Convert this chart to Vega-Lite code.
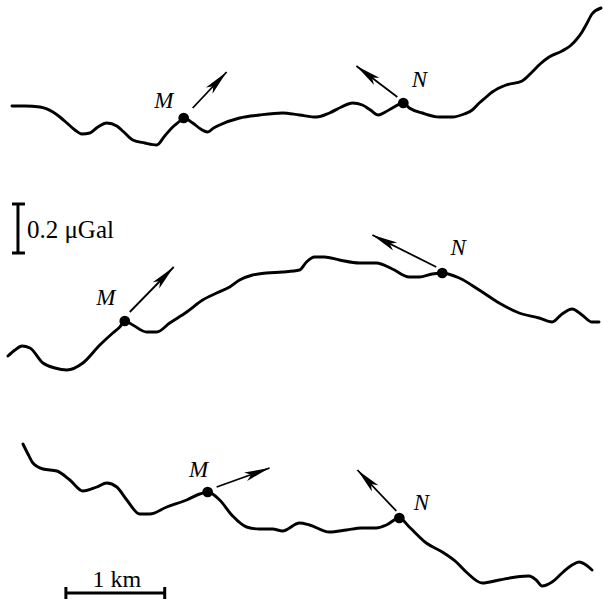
{
  "$schema": "https://vega.github.io/schema/vega-lite/v6.json",
  "width": 603,
  "height": 605,
  "padding": 0,
  "autosize": {"type": "fit", "contains": "padding"},
  "background": "white",
  "config": {"view": {"stroke": null}},
  "datasets": {
    "profiles": [
      {"profile": 1, "x": 12, "y": 106}, {"profile": 1, "x": 25, "y": 106}, {"profile": 1, "x": 40, "y": 107}, {"profile": 1, "x": 53, "y": 112}, {"profile": 1, "x": 60, "y": 117}, {"profile": 1, "x": 67, "y": 123}, {"profile": 1, "x": 75, "y": 130}, {"profile": 1, "x": 82, "y": 134}, {"profile": 1, "x": 90, "y": 133}, {"profile": 1, "x": 98, "y": 127}, {"profile": 1, "x": 107, "y": 123}, {"profile": 1, "x": 117, "y": 126}, {"profile": 1, "x": 124, "y": 132}, {"profile": 1, "x": 133, "y": 140}, {"profile": 1, "x": 145, "y": 143}, {"profile": 1, "x": 157, "y": 145}, {"profile": 1, "x": 165, "y": 136}, {"profile": 1, "x": 173, "y": 127}, {"profile": 1, "x": 179, "y": 122}, {"profile": 1, "x": 184, "y": 118}, {"profile": 1, "x": 193, "y": 123}, {"profile": 1, "x": 201, "y": 129}, {"profile": 1, "x": 208, "y": 132}, {"profile": 1, "x": 214, "y": 128}, {"profile": 1, "x": 220, "y": 125}, {"profile": 1, "x": 240, "y": 118}, {"profile": 1, "x": 260, "y": 115}, {"profile": 1, "x": 283, "y": 113}, {"profile": 1, "x": 300, "y": 115}, {"profile": 1, "x": 317, "y": 117}, {"profile": 1, "x": 330, "y": 113}, {"profile": 1, "x": 342, "y": 107}, {"profile": 1, "x": 353, "y": 103}, {"profile": 1, "x": 363, "y": 105}, {"profile": 1, "x": 371, "y": 110}, {"profile": 1, "x": 379, "y": 115}, {"profile": 1, "x": 386, "y": 112}, {"profile": 1, "x": 393, "y": 108}, {"profile": 1, "x": 404, "y": 103}, {"profile": 1, "x": 410, "y": 108}, {"profile": 1, "x": 423, "y": 113}, {"profile": 1, "x": 440, "y": 117}, {"profile": 1, "x": 453, "y": 117}, {"profile": 1, "x": 465, "y": 114}, {"profile": 1, "x": 473, "y": 110}, {"profile": 1, "x": 480, "y": 103}, {"profile": 1, "x": 487, "y": 97}, {"profile": 1, "x": 493, "y": 92}, {"profile": 1, "x": 507, "y": 85}, {"profile": 1, "x": 523, "y": 81}, {"profile": 1, "x": 533, "y": 72}, {"profile": 1, "x": 541, "y": 64}, {"profile": 1, "x": 550, "y": 57}, {"profile": 1, "x": 563, "y": 51}, {"profile": 1, "x": 571, "y": 46}, {"profile": 1, "x": 577, "y": 40}, {"profile": 1, "x": 583, "y": 32}, {"profile": 1, "x": 587, "y": 25}, {"profile": 1, "x": 593, "y": 14}, {"profile": 1, "x": 602, "y": 8},
      {"profile": 2, "x": 8, "y": 356}, {"profile": 2, "x": 15, "y": 350}, {"profile": 2, "x": 22, "y": 346}, {"profile": 2, "x": 30, "y": 348}, {"profile": 2, "x": 43, "y": 363}, {"profile": 2, "x": 55, "y": 368}, {"profile": 2, "x": 67, "y": 370}, {"profile": 2, "x": 83, "y": 363}, {"profile": 2, "x": 100, "y": 345}, {"profile": 2, "x": 113, "y": 333}, {"profile": 2, "x": 120, "y": 327}, {"profile": 2, "x": 125, "y": 321}, {"profile": 2, "x": 133, "y": 325}, {"profile": 2, "x": 147, "y": 332}, {"profile": 2, "x": 157, "y": 332}, {"profile": 2, "x": 170, "y": 323}, {"profile": 2, "x": 187, "y": 312}, {"profile": 2, "x": 203, "y": 300}, {"profile": 2, "x": 217, "y": 293}, {"profile": 2, "x": 230, "y": 287}, {"profile": 2, "x": 240, "y": 280}, {"profile": 2, "x": 253, "y": 275}, {"profile": 2, "x": 267, "y": 273}, {"profile": 2, "x": 283, "y": 272}, {"profile": 2, "x": 300, "y": 270}, {"profile": 2, "x": 307, "y": 262}, {"profile": 2, "x": 315, "y": 257}, {"profile": 2, "x": 325, "y": 257}, {"profile": 2, "x": 340, "y": 260}, {"profile": 2, "x": 360, "y": 263}, {"profile": 2, "x": 377, "y": 263}, {"profile": 2, "x": 393, "y": 269}, {"profile": 2, "x": 410, "y": 277}, {"profile": 2, "x": 420, "y": 277}, {"profile": 2, "x": 433, "y": 274}, {"profile": 2, "x": 443, "y": 273}, {"profile": 2, "x": 460, "y": 278}, {"profile": 2, "x": 480, "y": 290}, {"profile": 2, "x": 500, "y": 303}, {"profile": 2, "x": 520, "y": 313}, {"profile": 2, "x": 540, "y": 318}, {"profile": 2, "x": 553, "y": 322}, {"profile": 2, "x": 563, "y": 314}, {"profile": 2, "x": 573, "y": 309}, {"profile": 2, "x": 583, "y": 315}, {"profile": 2, "x": 593, "y": 322}, {"profile": 2, "x": 600, "y": 322},
      {"profile": 3, "x": 23, "y": 444}, {"profile": 3, "x": 28, "y": 454}, {"profile": 3, "x": 33, "y": 463}, {"profile": 3, "x": 43, "y": 469}, {"profile": 3, "x": 57, "y": 471}, {"profile": 3, "x": 70, "y": 480}, {"profile": 3, "x": 83, "y": 491}, {"profile": 3, "x": 97, "y": 487}, {"profile": 3, "x": 107, "y": 483}, {"profile": 3, "x": 117, "y": 487}, {"profile": 3, "x": 127, "y": 500}, {"profile": 3, "x": 140, "y": 514}, {"profile": 3, "x": 150, "y": 514}, {"profile": 3, "x": 167, "y": 507}, {"profile": 3, "x": 187, "y": 500}, {"profile": 3, "x": 200, "y": 494}, {"profile": 3, "x": 208, "y": 492}, {"profile": 3, "x": 220, "y": 500}, {"profile": 3, "x": 233, "y": 516}, {"profile": 3, "x": 247, "y": 527}, {"profile": 3, "x": 260, "y": 529}, {"profile": 3, "x": 273, "y": 529}, {"profile": 3, "x": 283, "y": 531}, {"profile": 3, "x": 300, "y": 523}, {"profile": 3, "x": 310, "y": 525}, {"profile": 3, "x": 330, "y": 532}, {"profile": 3, "x": 347, "y": 530}, {"profile": 3, "x": 362, "y": 528}, {"profile": 3, "x": 377, "y": 528}, {"profile": 3, "x": 387, "y": 525}, {"profile": 3, "x": 400, "y": 518}, {"profile": 3, "x": 410, "y": 527}, {"profile": 3, "x": 427, "y": 543}, {"profile": 3, "x": 443, "y": 552}, {"profile": 3, "x": 457, "y": 562}, {"profile": 3, "x": 467, "y": 572}, {"profile": 3, "x": 483, "y": 583}, {"profile": 3, "x": 500, "y": 580}, {"profile": 3, "x": 517, "y": 577}, {"profile": 3, "x": 530, "y": 576}, {"profile": 3, "x": 537, "y": 580}, {"profile": 3, "x": 543, "y": 586}, {"profile": 3, "x": 553, "y": 582}, {"profile": 3, "x": 563, "y": 573}, {"profile": 3, "x": 573, "y": 565}, {"profile": 3, "x": 580, "y": 562}, {"profile": 3, "x": 587, "y": 565}, {"profile": 3, "x": 593, "y": 570}
    ],
    "stations": [
      {"name": "M", "profile": 1, "x": 184, "y": 118, "lx": 164, "ly": 108, "ax": 193, "ay": 108, "tx": 227, "ty": 72, "heading": 43},
      {"name": "N", "profile": 1, "x": 404, "y": 103, "lx": 420, "ly": 87, "ax": 398, "ay": 97, "tx": 357, "ty": 66, "heading": -53},
      {"name": "M", "profile": 2, "x": 125, "y": 321, "lx": 106, "ly": 305, "ax": 130, "ay": 312, "tx": 174, "ty": 267, "heading": 44},
      {"name": "N", "profile": 2, "x": 443, "y": 273, "lx": 459, "ly": 255, "ax": 437, "ay": 267, "tx": 373, "ty": 235, "heading": -63},
      {"name": "M", "profile": 3, "x": 208, "y": 492, "lx": 199, "ly": 477, "ax": 217, "ay": 487, "tx": 270, "ty": 468, "heading": 70},
      {"name": "N", "profile": 3, "x": 400, "y": 518, "lx": 422, "ly": 510, "ax": 397, "ay": 511, "tx": 358, "ty": 470, "heading": -44}
    ],
    "bars": [
      {"x": 18, "y": 204, "x2": 18, "y2": 253},
      {"x": 12, "y": 204, "x2": 25, "y2": 204},
      {"x": 12, "y": 253, "x2": 25, "y2": 253},
      {"x": 66, "y": 593, "x2": 165, "y2": 593},
      {"x": 66, "y": 587, "x2": 66, "y2": 599},
      {"x": 165, "y": 587, "x2": 165, "y2": 599}
    ],
    "scaletext": [
      {"label": "0.2 μGal", "x": 27, "y": 238, "align": "left"},
      {"label": "1 km", "x": 117, "y": 587, "align": "center"}
    ]
  },
  "layer": [
    {
      "data": {"name": "profiles"},
      "mark": {"type": "line", "stroke": "black", "strokeWidth": 2.9, "interpolate": "monotone", "strokeCap": "round", "strokeJoin": "round"},
      "encoding": {
        "x": {"field": "x", "type": "quantitative", "scale": {"domain": [0, 603], "nice": false, "zero": false}, "axis": null},
        "y": {"field": "y", "type": "quantitative", "scale": {"domain": [0, 605], "nice": false, "zero": false, "reverse": true}, "axis": null},
        "detail": {"field": "profile", "type": "nominal"}
      }
    },
    {
      "data": {"name": "stations"},
      "mark": {"type": "rule", "stroke": "black", "strokeWidth": 1.8},
      "encoding": {
        "x": {"field": "ax", "type": "quantitative"},
        "y": {"field": "ay", "type": "quantitative"},
        "x2": {"field": "tx"},
        "y2": {"field": "ty"}
      }
    },
    {
      "data": {"name": "stations"},
      "mark": {"type": "point", "shape": "M0,0L0.3,1.7L0,1.3L-0.3,1.7Z", "filled": true, "color": "black", "size": 900, "opacity": 1},
      "encoding": {
        "x": {"field": "tx", "type": "quantitative"},
        "y": {"field": "ty", "type": "quantitative"},
        "angle": {"field": "heading", "type": "quantitative", "scale": null}
      }
    },
    {
      "data": {"name": "stations"},
      "mark": {"type": "circle", "color": "black", "size": 115, "opacity": 1},
      "encoding": {
        "x": {"field": "x", "type": "quantitative"},
        "y": {"field": "y", "type": "quantitative"}
      }
    },
    {
      "data": {"name": "stations"},
      "mark": {"type": "text", "font": "Liberation Serif", "fontStyle": "italic", "fontSize": 23, "align": "center", "baseline": "alphabetic", "color": "black"},
      "encoding": {
        "x": {"field": "lx", "type": "quantitative"},
        "y": {"field": "ly", "type": "quantitative"},
        "text": {"field": "name"}
      }
    },
    {
      "data": {"name": "bars"},
      "mark": {"type": "rule", "stroke": "black", "strokeWidth": 3},
      "encoding": {
        "x": {"field": "x", "type": "quantitative"},
        "y": {"field": "y", "type": "quantitative"},
        "x2": {"field": "x2"},
        "y2": {"field": "y2"}
      }
    },
    {
      "data": {"name": "scaletext"},
      "transform": [{"filter": "datum.align == 'left'"}],
      "mark": {"type": "text", "font": "Liberation Serif", "fontSize": 25, "align": "left", "baseline": "alphabetic", "color": "black"},
      "encoding": {
        "x": {"field": "x", "type": "quantitative"},
        "y": {"field": "y", "type": "quantitative"},
        "text": {"field": "label"}
      }
    },
    {
      "data": {"name": "scaletext"},
      "transform": [{"filter": "datum.align == 'center'"}],
      "mark": {"type": "text", "font": "Liberation Serif", "fontSize": 24, "align": "center", "baseline": "alphabetic", "color": "black"},
      "encoding": {
        "x": {"field": "x", "type": "quantitative"},
        "y": {"field": "y", "type": "quantitative"},
        "text": {"field": "label"}
      }
    }
  ]
}
